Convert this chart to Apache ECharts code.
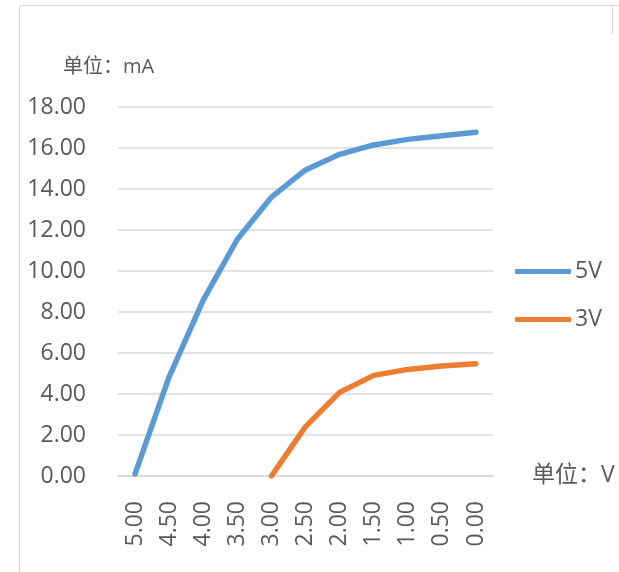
<!DOCTYPE html>
<html><head><meta charset="utf-8">
<script src="https://cdn.jsdelivr.net/npm/echarts@6/dist/echarts.min.js"></script>
<style>html,body{margin:0;padding:0;background:#fff}#c{width:619px;height:572px}</style>
</head><body><div id="c"></div>
<script>
const categories = ['5.00','4.50','4.00','3.50','3.00','2.50','2.00','1.50','1.00','0.50','0.00'];
const series5V = [0.1, 4.84, 8.58, 11.55, 13.6, 14.93, 15.69, 16.15, 16.42, 16.6, 16.77];
const series3V = [null, null, null, null, 0.0, 2.41, 4.08, 4.91, 5.2, 5.37, 5.48];
const seriesNames = ['5V', '3V'];
const yTicks = {min: 0, max: 18, interval: 2};
const FONT = '"Open Sans", "Noto Sans CJK SC", sans-serif';
const chart = echarts.init(document.getElementById('c'));
chart.setOption({
  animation: false,
  color: ['#5B9BD5', '#ED7D31'],
  grid: {left: 118, right: 126, top: 107, bottom: 96},
  xAxis: {
    type: 'category', data: categories, boundaryGap: true,
    axisLine: {lineStyle: {color: '#d9d9d9', width: 1.5}},
    axisTick: {show: false},
    axisLabel: {rotate: 90, margin: 25, color: '#595959', fontSize: 23, fontFamily: FONT}
  },
  yAxis: {
    type: 'value', min: yTicks.min, max: yTicks.max, interval: yTicks.interval,
    axisLine: {show: false}, axisTick: {show: false},
    splitLine: {lineStyle: {color: '#d9d9d9', width: 1.5}},
    axisLabel: {formatter: v => v.toFixed(2), margin: 32,
      color: '#595959', fontSize: 23, fontFamily: FONT}
  },
  legend: {
    orient: 'vertical', left: 510, top: 255, itemGap: 25, itemWidth: 56, itemHeight: 5,
    icon: 'roundRect',
    textStyle: {color: '#595959', fontSize: 23, fontFamily: FONT, padding: [0,0,0,-1]},
    data: seriesNames
  },
  graphic: [
    {type: 'polyline', shape: {points: [[19.5, 572], [19.5, 5.5], [619, 5.5]]}, style: {fill: 'none', stroke: '#d9d9d9', lineWidth: 1}},
    {type: 'line', shape: {x1: 612.5, y1: 5.5, x2: 612.5, y2: 34}, style: {stroke: '#d9d9d9', lineWidth: 1}},
    {type: 'text', left: 63, top: 57, style: {text: '单位：mA', fill: '#595959', font: '20px ' + FONT}},
    {type: 'text', left: 532, top: 464, style: {text: '单位：V', fill: '#595959', font: '23px ' + FONT}}
  ],
  series: [
    {name: seriesNames[0], type: 'line', data: series5V, symbol: 'none', lineStyle: {width: 5.5, cap: 'round', join: 'round'}},
    {name: seriesNames[1], type: 'line', data: series3V, symbol: 'none', lineStyle: {width: 5.5, cap: 'round', join: 'round'}}
  ]
});
</script></body></html>
